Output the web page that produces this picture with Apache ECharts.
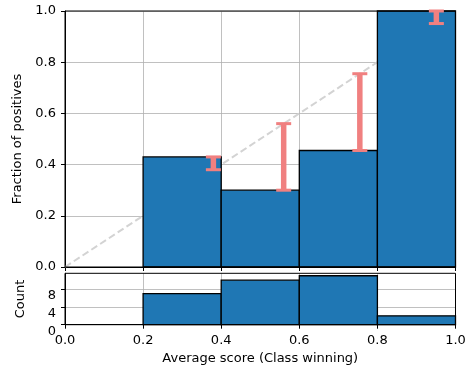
<!DOCTYPE html>
<html>
<head>
<meta charset="utf-8">
<script src="https://cdn.jsdelivr.net/npm/echarts@6/dist/echarts.min.js"></script>
<style>
  html, body { margin: 0; padding: 0; background: #fff; }
  #chart { width: 474px; height: 373px; }
</style>
</head>
<body>
<div id="chart"></div>
<script>
// Reliability diagram: fraction of positives per score bin, plus counts per bin.
const binStarts = [0.2, 0.4, 0.6, 0.8];
const binEnds = [0.4, 0.6, 0.8, 1.0];
const fractionPositives = [0.43, 0.30, 0.455, 1.0];
const meanScores = [0.38, 0.56, 0.755, 0.951];
const binCounts = [7, 10, 11, 2];
const diagonal = [[0, 0], [1, 1]];
const countTicks = [0, 4, 8];
const countMax = 11.55;

const FONT = 'DejaVu Sans';
const BAR_FILL = '#1f77b4';
const GAP_COLOR = '#f08080';
const GRID_COLOR = '#b0b0b0';

const fractionBars = binStarts.map((s, i) => [s, binEnds[i], fractionPositives[i]]);
const countBars = binStarts.map((s, i) => [s, binEnds[i], binCounts[i]]);
// Gap between mean score and observed fraction, drawn at the mean score
const gapBars = meanScores.map((m, i) => [m, Math.min(m, fractionPositives[i]), Math.max(m, fractionPositives[i])]);

function renderBin(params, api) {
  const topLeft = api.coord([api.value(0), api.value(2)]);
  const botRight = api.coord([api.value(1), 0]);
  return {
    type: 'rect',
    shape: { x: topLeft[0], y: topLeft[1], width: botRight[0] - topLeft[0], height: botRight[1] - topLeft[1] },
    style: { fill: BAR_FILL, stroke: '#000', lineWidth: 1.3 }
  };
}

function renderGap(params, api) {
  const lo = api.coord([api.value(0), api.value(1)]);
  const hi = api.coord([api.value(0), api.value(2)]);
  const half = 7.5;
  const st = { stroke: GAP_COLOR, lineWidth: 3 };
  return {
    type: 'group',
    children: [
      { type: 'line', shape: { x1: lo[0], y1: lo[1], x2: hi[0], y2: hi[1] }, style: { stroke: GAP_COLOR, lineWidth: 5.5 } },
      { type: 'line', shape: { x1: lo[0] - half, y1: lo[1], x2: lo[0] + half, y2: lo[1] }, style: st },
      { type: 'line', shape: { x1: hi[0] - half, y1: hi[1], x2: hi[0] + half, y2: hi[1] }, style: st }
    ]
  };
}

// Black frame around each panel, drawn above the grid lines
function renderFrame(params) {
  const cs = params.coordSys;
  return {
    type: 'rect',
    shape: { x: cs.x, y: cs.y, width: cs.width, height: cs.height },
    style: { fill: 'none', stroke: '#000', lineWidth: 1 }
  };
}

const labelStyle = { fontFamily: FONT, fontSize: 13, color: '#000' };
const axisLine = { show: true, lineStyle: { color: '#000', width: 1 } };
const axisTick = { show: true, inside: false, length: 4, lineStyle: { color: '#000', width: 1 } };
const splitLine = { show: true, lineStyle: { color: GRID_COLOR, width: 0.8 } };

const chart = echarts.init(document.getElementById('chart'), null, { renderer: 'canvas' });
chart.setOption({
  animation: false,
  backgroundColor: '#fff',
  grid: [
    { left: 65, top: 11, width: 390.5, height: 256 },
    { left: 65, top: 273.3, width: 390.5, height: 51.4 }
  ],
  xAxis: [
    {
      type: 'value', gridIndex: 0, min: 0, max: 1, interval: 0.2,
      axisLine, axisTick, splitLine,
      axisLabel: { show: false }
    },
    {
      type: 'value', gridIndex: 1, min: 0, max: 1, interval: 0.2,
      axisLine, axisTick, splitLine,
      axisLabel: Object.assign({ margin: 9, formatter: v => v.toFixed(1) }, labelStyle),
      name: 'Average score (Class winning)', nameLocation: 'middle', nameGap: 27,
      nameTextStyle: labelStyle
    }
  ],
  yAxis: [
    {
      type: 'value', gridIndex: 0, min: 0, max: 1, interval: 0.2,
      axisLine, axisTick, splitLine,
      axisLabel: Object.assign({ margin: 9, formatter: v => v.toFixed(1) }, labelStyle),
      name: 'Fraction of positives', nameLocation: 'middle', nameGap: 38,
      nameTextStyle: labelStyle
    },
    {
      type: 'value', gridIndex: 1, min: 0, max: countMax, interval: 4,
      axisLine, splitLine,
      axisTick: Object.assign({}, axisTick, { customValues: countTicks }),
      axisLabel: Object.assign({ margin: 9, verticalAlign: 'top', customValues: countTicks, formatter: v => String(v) }, labelStyle),
      name: 'Count', nameLocation: 'middle', nameGap: 38,
      nameTextStyle: labelStyle
    }
  ],
  series: [
    {
      type: 'line', xAxisIndex: 0, yAxisIndex: 0, data: diagonal, symbol: 'none', z: 1,
      lineStyle: { color: '#d3d3d3', width: 2, type: [7, 3.5] }
    },
    {
      type: 'custom', xAxisIndex: 0, yAxisIndex: 0, data: fractionBars, z: 2,
      renderItem: renderBin, encode: { x: [0, 1], y: 2 }
    },
    {
      type: 'custom', xAxisIndex: 0, yAxisIndex: 0, data: [[0, 0]], z: 3, silent: true,
      renderItem: renderFrame
    },
    {
      type: 'custom', xAxisIndex: 0, yAxisIndex: 0, data: gapBars, z: 4,
      renderItem: renderGap, encode: { x: 0, y: [1, 2] }
    },
    {
      type: 'custom', xAxisIndex: 1, yAxisIndex: 1, data: countBars, z: 2,
      renderItem: renderBin, encode: { x: [0, 1], y: 2 }
    },
    {
      type: 'custom', xAxisIndex: 1, yAxisIndex: 1, data: [[0, 0]], z: 3, silent: true,
      renderItem: renderFrame
    }
  ]
});
</script>
</body>
</html>
